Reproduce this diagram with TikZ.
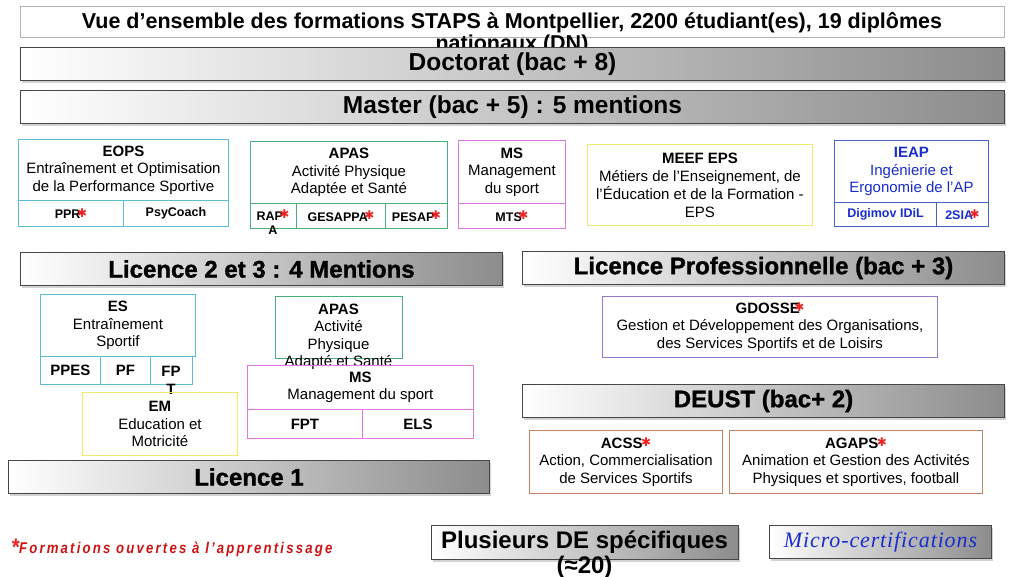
\documentclass[tikz,border=0pt]{standalone}
\usepackage{fontspec}
\setmainfont{Liberation Sans}
\newfontfamily\djv{DejaVu Sans}
\newfontfamily\heavy[FakeBold=1.2]{Liberation Sans}
\newfontfamily\footfont[LetterSpace=14,FakeStretch=0.85]{Liberation Sans}
\newfontfamily\microfont[LetterSpace=4]{Liberation Serif}
\usetikzlibrary{shadows}
\definecolor{cyanb}{RGB}{90,190,215}
\definecolor{greenb}{RGB}{70,175,125}
\definecolor{magb}{RGB}{225,120,225}
\definecolor{yelb}{RGB}{240,235,110}
\definecolor{blueb}{RGB}{70,100,200}
\definecolor{bluet}{RGB}{25,45,205}
\definecolor{purpb}{RGB}{150,120,200}
\definecolor{brownb}{RGB}{195,130,100}
\definecolor{starred}{RGB}{235,35,35}
\definecolor{footred}{RGB}{205,20,20}
\definecolor{barline}{RGB}{70,70,70}
\definecolor{barmid}{RGB}{228,228,228}
\definecolor{barright}{RGB}{140,140,140}
\newcommand\rstar{\kern-3.5pt\raisebox{1.5pt}{\textcolor{starred}{\djv\fontsize{12}{12}\selectfont ✱}}}
\tikzset{
  bar/.style={draw=barline, line width=1pt, anchor=north west, inner sep=0pt,
    left color=white, middle color=barmid, right color=barright,
    drop shadow={shadow xshift=1.5pt, shadow yshift=-2.5pt, opacity=0.35},
    font=\fontsize{24.5}{26}\selectfont\bfseries},
  heavybar/.style={bar, font=\heavy\fontsize{24}{26}\selectfont\bfseries},
  cell/.style={draw=#1, line width=0.9pt, anchor=north west, inner sep=0pt, align=center,
    font=\fontsize{15}{17.5}\selectfont},
  sub/.style={draw=#1, line width=0.9pt, anchor=north west, inner sep=0pt, align=center,
    font=\fontsize{12.5}{15}\selectfont\bfseries},
  subl/.style={draw=#1, line width=0.9pt, anchor=north west, inner sep=0pt, align=center,
    font=\fontsize{15}{18}\selectfont\bfseries},
  lbl/.style={inner sep=0pt, align=center, font=\fontsize{15}{17.5}\selectfont},
  sublbl/.style={inner sep=0pt, align=center, font=\fontsize{#1}{#1}\selectfont\bfseries},
}
\begin{document}
\begin{tikzpicture}[x=1pt,y=-1pt]
\useasboundingbox[fill=white] (0,0) rectangle (1024,576);
% title
\node[draw=gray!60, line width=0.8pt, anchor=north west, minimum width=984pt, minimum height=31pt, inner sep=0pt] (titlebox) at (20,6) {};
\node[inner sep=0pt, align=center, font=\fontsize{21.5}{22}\selectfont\bfseries] (titletext) at (512,33.5)
  {Vue d’ensemble des formations STAPS à Montpellier, 2200 étudiant(es), 19 diplômes\\nationaux (DN)};
% bars
\node[bar, minimum width=984pt, minimum height=33pt] (doct) at (20,47) {Doctorat (bac + 8)};
\node[bar, minimum width=984pt, minimum height=33pt] (master) at (20,90) {Master (bac + 5) : 5 mentions};
% Master mentions
\node[cell=cyanb, minimum width=210pt, minimum height=61pt] (eops) at (18,139)
  {\textbf{EOPS}\\Entraînement et Optimisation\\de la Performance Sportive};
\node[sub=cyanb, minimum width=105pt, minimum height=26pt] (ppr) at (18,200) {PPR\rstar};
\node[sub=cyanb, minimum width=105pt, minimum height=26pt] (psy) at (123,200) {PsyCoach};

\node[cell=greenb, minimum width=197pt, minimum height=62pt] (apasm) at (250,141)
  {\textbf{APAS}\\Activité Physique\\Adaptée et Santé};
\node[sub=greenb, minimum width=46pt, minimum height=25pt] (rapa) at (250,203) {};
\node[sublbl=12.5] (rapatext) at (273,222.5) {RAP\rstar\\[2pt]A};
\node[sub=greenb, minimum width=89pt, minimum height=25pt] (gesappa) at (296,203) {GESAPPA\rstar};
\node[sub=greenb, minimum width=62pt, minimum height=25pt] (pesap) at (385,203) {PESAP\rstar};

\node[cell=magb, minimum width=107pt, minimum height=63pt] (msm) at (458,140)
  {\textbf{MS}\\Management\\du sport};
\node[sub=magb, minimum width=107pt, minimum height=25pt] (mts) at (458,203) {MTS\rstar};

\node[cell=yelb, minimum width=225pt, minimum height=81pt, font=\fontsize{15}{18}\selectfont] (meef) at (587,144)
  {\textbf{MEEF EPS}\\Métiers de l'Enseignement, de\\l'Éducation et de la Formation -\\EPS};

\node[cell=blueb, minimum width=154pt, minimum height=62pt, text=bluet] (ieap) at (834,140)
  {\textbf{IEAP}\\Ingénierie et\\Ergonomie de l’AP};
\node[sub=blueb, minimum width=102pt, minimum height=24pt, text=bluet] (digimov) at (834,202) {Digimov IDiL};
\node[sub=blueb, minimum width=52pt, minimum height=24pt, text=bluet] (ssia) at (936,202) {2SIA\rstar};

% Licence bars
\node[heavybar, minimum width=482pt, minimum height=33pt] (l23) at (20,252) {Licence 2 et 3 : 4 Mentions};
\node[heavybar, minimum width=482pt, minimum height=33pt] (lpro) at (522,251) {Licence Professionnelle (bac + 3)};

% Licence mentions
\node[cell=cyanb, minimum width=155pt, minimum height=62pt] (es) at (40,294)
  {\textbf{ES}\\Entraînement\\Sportif};
\node[subl=cyanb, minimum width=60pt, minimum height=28pt] (ppes) at (40,356) {PPES};
\node[subl=cyanb, minimum width=50pt, minimum height=28pt] (pf) at (100,356) {PF};
\node[subl=cyanb, minimum width=42pt, minimum height=28pt] (fpt) at (150,356) {};
\node[sublbl=15, font=\fontsize{15}{18}\selectfont\bfseries] (fpttext) at (171,380) {FP\\T};

\node[cell=greenb, minimum width=127pt, minimum height=62pt] (apasl) at (275,296) {};
\node[lbl] (apasltext) at (338.5,337) {\textbf{APAS}\\Activité\\Physique\\Adapté et Santé};

\node[cell=magb, minimum width=226pt, minimum height=44pt] (msl) at (247,365)
  {\textbf{MS}\\Management du sport};
\node[subl=magb, minimum width=115pt, minimum height=29pt] (fptl) at (247,409) {FPT};
\node[subl=magb, minimum width=111pt, minimum height=29pt] (els) at (362,409) {ELS};

\node[cell=yelb, minimum width=155pt, minimum height=63pt] (em) at (82,392)
  {\textbf{EM}\\Education et\\Motricité};

\node[heavybar, minimum width=481pt, minimum height=33pt] (l1) at (8,460) {Licence 1};

% Licence pro & DEUST
\node[cell=purpb, minimum width=335pt, minimum height=61pt] (gdosse) at (602,296)
  {\textbf{GDOSSE\kern-2pt\rstar}\\Gestion et Développement des Organisations,\\des Services Sportifs et de Loisirs};
\node[heavybar, minimum width=482pt, minimum height=33pt] (deust) at (522,384) {DEUST (bac+ 2)};
\node[cell=brownb, minimum width=193pt, minimum height=63pt] (acss) at (529,430)
  {\textbf{ACSS}\kern2pt\rstar\\Action, Commercialisation\\de Services Sportifs};
\node[cell=brownb, minimum width=253pt, minimum height=63pt] (agaps) at (729,430)
  {\textbf{AGAPS}\kern2pt\rstar\\Animation et Gestion des Activités\\Physiques et sportives, football};

% bottom
\node[anchor=west, inner sep=0pt, text=footred, font=\footfont\bfseries\itshape\fontsize{15.5}{16}\selectfont] (foot) at (11,548)
  {\textcolor{starred}{\fontsize{24}{24}\selectfont\raisebox{-2pt}{*}}Formations ouvertes à l’apprentissage};
\node[bar, minimum width=307pt, minimum height=34pt] (de) at (431,525) {};
\node[inner sep=0pt, align=center, font=\fontsize{24}{25}\selectfont\bfseries] (detext) at (584.5,555)
  {Plusieurs DE spécifiques\\(≈20)};
\node[bar, minimum width=222pt, minimum height=33pt, font=\microfont\itshape\fontsize{22}{24}\selectfont, text=bluet] (micro) at (769,525) {Micro-certifications};
\end{tikzpicture}
\end{document}
